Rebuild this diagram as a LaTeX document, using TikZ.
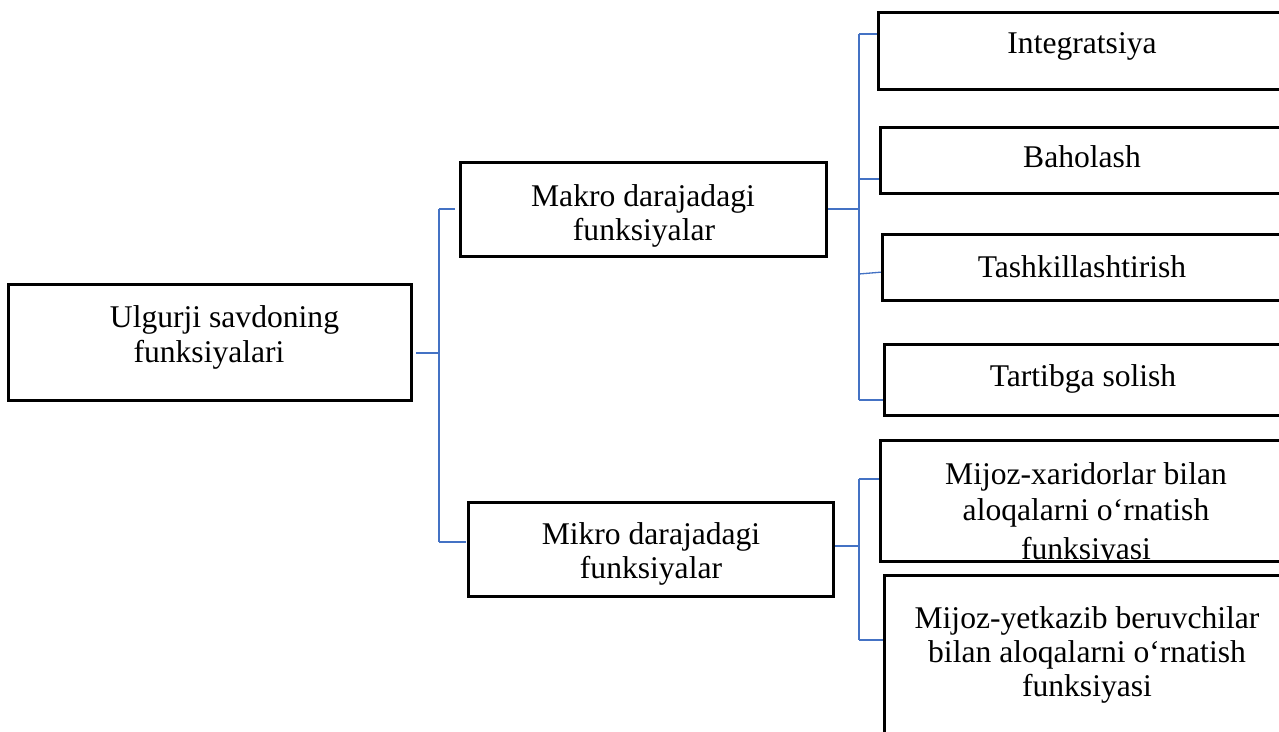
\documentclass[tikz,border=0pt]{standalone}
\usepackage{fontspec}
\setmainfont{Liberation Serif}
\definecolor{linkblue}{RGB}{68,114,196}
\tikzset{
  box/.style={draw=black, line width=2.9pt, inner sep=0pt},
  lbl/.style={anchor=base, inner sep=0pt, font=\fontsize{31.6}{34.5}\selectfont},
  link/.style={draw=linkblue, line width=1.3pt},
}
\begin{document}
\begin{tikzpicture}[x=1pt,y=-1pt]
\clip (0,0) rectangle (1279,731);
\fill[white] (0,0) rectangle (1279,731);

% boxes (shapes only, borders drawn later)
\node[minimum width=402pt, minimum height=115pt, inner sep=0pt] (root) at (210,342.5) {};
\node[minimum width=365pt, minimum height=93pt, inner sep=0pt] (makro) at (643.5,209.5) {};
\node[minimum width=364pt, minimum height=93pt, inner sep=0pt] (mikro) at (651,549.5) {};
\node[minimum width=411pt, minimum height=76pt, inner sep=0pt] (integ) at (1084.5,51) {};
\node[minimum width=409pt, minimum height=65pt, inner sep=0pt] (bahol) at (1085.5,160.5) {};
\node[minimum width=407pt, minimum height=65pt, inner sep=0pt] (tash) at (1086.5,267.5) {};
\node[minimum width=405pt, minimum height=70pt, inner sep=0pt] (tart) at (1087.5,380) {};
\node[minimum width=409pt, minimum height=120pt, inner sep=0pt] (mx) at (1085.5,501) {};
\node[minimum width=405pt, minimum height=184pt, inner sep=0pt] (my) at (1087.5,668) {};

% junction coordinates
\coordinate (j0) at (439,353);
\coordinate (j1) at (439,209);
\coordinate (j2) at (439,542);
\coordinate (k0) at (859,209);
\coordinate (k1) at (859,34);
\coordinate (k2) at (859,179);
\coordinate (k3) at (859,274);
\coordinate (e3) at (883,272);
\coordinate (k4) at (859,400);
\coordinate (m0) at (859,546);
\coordinate (m1) at (859,479);
\coordinate (m2) at (859,640);

% connectors
\draw[link] ([xshift=5pt]root.east |- j0) -- (j0);
\draw[link] (j1) -- (j2);
\draw[link] (j1) -- ([xshift=-6pt]makro.west |- j1);
\draw[link] (j2) -- ([xshift=-3pt]mikro.west |- j2);

\draw[link] (makro.east |- k0) -- (k0);
\draw[link] (k1) -- (k4);
\draw[link] (k1) -- (integ.west |- k1);
\draw[link] (k2) -- (bahol.west |- k2);
\draw[link] (k3) -- (tash.west |- e3);
\draw[link] (k4) -- (tart.west |- k4);

\draw[link] (mikro.east |- m0) -- (m0);
\draw[link] (m1) -- (m2);
\draw[link] (m1) -- (mx.west |- m1);
\draw[link] (m2) -- (my.west |- m2);

% texts
\node[lbl] (rootA) at (224.5,327) {Ulgurji savdoning};
\node[lbl] (rootB) at (209,362) {funksiyalari};
\node[lbl] (makroA) at (643,206) {Makro darajadagi};
\node[lbl] (makroB) at (644,240) {funksiyalar};
\node[lbl] (mikroA) at (651,544) {Mikro darajadagi};
\node[lbl] (mikroB) at (651,578) {funksiyalar};
\node[lbl] (integT) at (1082,53) {Integratsiya};
\node[lbl] (baholT) at (1082,167) {Baholash};
\node[lbl] (tashT) at (1082,277) {Tashkillashtirish};
\node[lbl] (tartT) at (1083,386) {Tartibga solish};
\begin{scope}
  \clip (mx.north west) rectangle ([yshift=-10pt]mx.north east |- 0,551);
  \node[lbl] (mxA) at (1086,484) {Mijoz-xaridorlar bilan};
  \node[lbl] (mxB) at (1086,520) {aloqalarni o‘rnatish};
  \node[lbl] (mxC) at (1086,559) {funksiyasi};
\end{scope}
\node[lbl] (myA) at (1087,628) {Mijoz-yetkazib beruvchilar};
\node[lbl] (myB) at (1087,662) {bilan aloqalarni o‘rnatish};
\node[lbl] (myC) at (1087,696) {funksiyasi};

% box borders
\foreach \b in {root,makro,mikro,integ,bahol,tash,tart,mx,my}
  \draw[box] (\b.south west) rectangle (\b.north east);
\end{tikzpicture}
\end{document}
